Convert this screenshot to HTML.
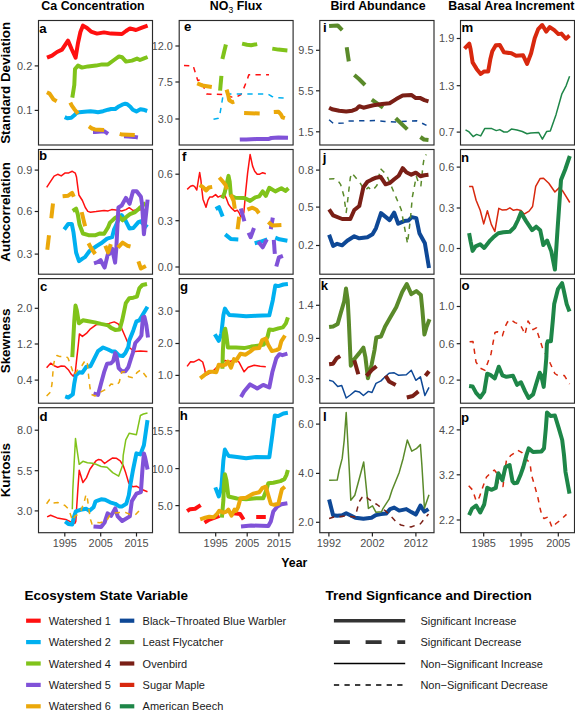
<!DOCTYPE html>
<html><head><meta charset="utf-8"><style>
html,body{margin:0;padding:0;background:#fff;}
svg{display:block;}
text{font-family:"Liberation Sans",sans-serif;}
</style></head><body>
<svg width="575" height="710" viewBox="0 0 575 710">
<rect x="0" y="0" width="575" height="710" fill="#fff"/>

<g font-weight="bold" font-size="12.4" fill="#000">
<text x="93" y="10.4" text-anchor="middle">Ca Concentration</text>
<text x="236" y="10.4" text-anchor="middle">NO<tspan font-size="8.6" font-weight="normal" dy="2.1">3</tspan><tspan dy="-2.1"> Flux</tspan></text>
<text x="378" y="10.4" text-anchor="middle">Bird Abundance</text>
<text x="448.2" y="10.4">Basal Area Increment</text>
</g>
<g font-weight="bold" font-size="13.4" fill="#000">
<text transform="translate(10.4,82.8) rotate(-90)" text-anchor="middle">Standard Deviation</text>
<text transform="translate(10.4,211.8) rotate(-90)" text-anchor="middle">Autocorrelation</text>
<text transform="translate(10.4,340.9) rotate(-90)" text-anchor="middle">Skewness</text>
<text transform="translate(10.4,470.2) rotate(-90)" text-anchor="middle">Kurtosis</text>
</g>
<g>
<polyline points="47.0,57.6 52.0,55.6 57.0,52.0 62.0,49.6 68.0,40.6 71.6,49.0 75.6,57.6 78.0,43.0 80.4,32.0 83.0,25.6 87.0,28.0 91.0,31.6 97.0,33.6 104.0,32.4 111.0,33.6 122.0,34.0 126.0,31.0 130.0,28.4 136.0,30.0 142.0,27.6 147.6,25.6" fill="none" stroke="#FF1010" stroke-width="4.0" stroke-linejoin="round" stroke-linecap="butt"/>
<polyline points="64.7,117.1 67.3,118.3 71.3,117.8 74.3,115.3 76.3,113.2 79.4,112.2 84.4,111.7 90.5,111.2 95.0,111.7 98.0,112.2 103.1,111.2 108.1,109.7 111.1,109.0 115.2,109.0 119.2,106.2 122.2,104.7 125.3,103.7 127.3,104.2 130.3,106.7 132.8,109.7 136.4,111.4 140.4,109.2 143.4,109.7 147.2,111.0" fill="none" stroke="#00B0F0" stroke-width="4.0" stroke-linejoin="round" stroke-linecap="butt"/>
<polyline points="72.3,97.6 74.3,85.0 75.0,69.0 78.0,65.6 82.0,67.6 88.0,66.4 96.0,65.6 102.0,64.4 108.0,64.4 114.0,60.0 119.0,56.4 122.0,57.2 126.0,61.6 132.0,60.6 137.0,58.6 140.0,60.0 144.0,58.4 147.6,57.0" fill="none" stroke="#80C31A" stroke-width="4.0" stroke-linejoin="round" stroke-linecap="butt"/>
<polyline points="93.0,131.9 95.0,131.9 104.1,131.2 108.1,133.9" fill="none" stroke="#8052D8" stroke-width="4.0" stroke-linejoin="round" stroke-linecap="butt"/>
<polyline points="124.0,136.2 128.3,136.4 134.3,136.9 137.9,137.5" fill="none" stroke="#8052D8" stroke-width="4.0" stroke-linejoin="round" stroke-linecap="butt"/>
<polyline points="46.9,92.3 49.6,93.6 51.6,96.6 53.6,99.6 56.7,101.3" fill="none" stroke="#EBA80A" stroke-width="4.0" stroke-linejoin="round" stroke-linecap="butt"/>
<polyline points="70.3,102.7 71.8,105.7 74.3,109.2 78.1,113.7" fill="none" stroke="#EBA80A" stroke-width="4.0" stroke-linejoin="round" stroke-linecap="butt"/>
<polyline points="88.9,126.4 92.0,128.5 95.0,129.4 104.1,129.9" fill="none" stroke="#EBA80A" stroke-width="4.0" stroke-linejoin="round" stroke-linecap="butt"/>
<polyline points="119.7,133.9 122.2,134.6 134.8,134.9" fill="none" stroke="#EBA80A" stroke-width="4.0" stroke-linejoin="round" stroke-linecap="butt"/>
</g>
<rect x="38.5" y="20.5" width="114.0" height="124.5" fill="none" stroke="#2a2a2a" stroke-width="1.15"/>
<text x="39.3" y="33.0" font-size="13.2" font-weight="bold" fill="#000">a</text>
<line x1="34.7" y1="65.9" x2="38.5" y2="65.9" stroke="#222" stroke-width="1.2"/>
<text x="32.2" y="69.8" font-size="10.9" fill="#4D4D4D" text-anchor="end">0.2</text>
<line x1="34.7" y1="110.4" x2="38.5" y2="110.4" stroke="#222" stroke-width="1.2"/>
<text x="32.2" y="114.3" font-size="10.9" fill="#4D4D4D" text-anchor="end">0.1</text>
<g>
<polyline points="184.0,65.4 193.2,65.8 197.7,80.4 200.7,79.9 206.7,94.0 224.5,94.6 232.0,97.1 237.0,96.6 241.0,94.5 243.5,89.0 247.3,79.5 248.8,74.8 269.0,74.8" fill="none" stroke="#FF1010" stroke-width="1.5" stroke-linejoin="round" stroke-dasharray="5.3 5.3" stroke-dashoffset="0"/>
<polyline points="213.5,119.3 218.5,118.3 219.6,116.0 222.8,97.0 224.0,94.6 226.0,94.1 266.0,94.1 268.0,94.2 272.0,96.5 275.0,97.6 288.5,98.1" fill="none" stroke="#00B0F0" stroke-width="1.5" stroke-linejoin="round" stroke-dasharray="5.3 5.3" stroke-dashoffset="0"/>
<polyline points="225.9,44.5 222.4,59.0" fill="none" stroke="#80C31A" stroke-width="4.0" stroke-linejoin="round" stroke-linecap="butt"/>
<polyline points="221.4,75.9 220.1,90.6" fill="none" stroke="#80C31A" stroke-width="4.0" stroke-linejoin="round" stroke-linecap="butt"/>
<polyline points="242.1,43.6 247.0,44.8 251.1,45.3 257.2,44.1" fill="none" stroke="#80C31A" stroke-width="4.0" stroke-linejoin="round" stroke-linecap="butt"/>
<polyline points="272.3,48.6 278.4,49.6 287.4,50.4" fill="none" stroke="#80C31A" stroke-width="4.0" stroke-linejoin="round" stroke-linecap="butt"/>
<polyline points="239.8,139.6 246.1,139.4 256.2,139.1 268.3,139.1 271.3,138.0 278.4,137.6 288.0,137.8" fill="none" stroke="#8052D8" stroke-width="4.0" stroke-linejoin="round" stroke-linecap="butt"/>
<polyline points="197.2,83.4 202.2,85.4 211.8,86.9" fill="none" stroke="#EBA80A" stroke-width="4.0" stroke-linejoin="round" stroke-linecap="butt"/>
<polyline points="226.6,89.6 228.2,95.1 229.2,100.2 232.7,102.2 234.2,101.7" fill="none" stroke="#EBA80A" stroke-width="4.0" stroke-linejoin="round" stroke-linecap="butt"/>
<polyline points="244.1,113.0 259.7,113.5" fill="none" stroke="#EBA80A" stroke-width="4.0" stroke-linejoin="round" stroke-linecap="butt"/>
<polyline points="273.8,112.0 278.4,111.7 280.9,114.3 282.4,117.3 284.9,118.1" fill="none" stroke="#EBA80A" stroke-width="4.0" stroke-linejoin="round" stroke-linecap="butt"/>
</g>
<rect x="179.2" y="20.5" width="113.90000000000003" height="124.5" fill="none" stroke="#2a2a2a" stroke-width="1.15"/>
<text x="183.9" y="30.5" font-size="13.2" font-weight="bold" fill="#000">e</text>
<line x1="175.39999999999998" y1="46" x2="179.2" y2="46" stroke="#222" stroke-width="1.2"/>
<text x="172.89999999999998" y="49.9" font-size="10.9" fill="#4D4D4D" text-anchor="end">12.0</text>
<line x1="175.39999999999998" y1="82" x2="179.2" y2="82" stroke="#222" stroke-width="1.2"/>
<text x="172.89999999999998" y="85.9" font-size="10.9" fill="#4D4D4D" text-anchor="end">7.5</text>
<line x1="175.39999999999998" y1="119" x2="179.2" y2="119" stroke="#222" stroke-width="1.2"/>
<text x="172.89999999999998" y="122.9" font-size="10.9" fill="#4D4D4D" text-anchor="end">3.0</text>
<g>
<polyline points="329.1,119.8 333.3,123.4 343.2,123.0 347.5,121.0 375.0,120.6 385.0,121.5 395.0,122.1 400.5,121.5 416.5,120.8 420.0,122.2 426.5,125.4" fill="none" stroke="#0E4896" stroke-width="1.5" stroke-linejoin="round" stroke-dasharray="5.3 5.3" stroke-dashoffset="0"/>
<polyline points="329.1,26.0 337.7,25.5 342.2,30.1" fill="none" stroke="#5A8A2A" stroke-width="4.0" stroke-linejoin="round" stroke-linecap="butt"/>
<polyline points="346.7,47.2 348.8,61.4" fill="none" stroke="#5A8A2A" stroke-width="4.0" stroke-linejoin="round" stroke-linecap="butt"/>
<polyline points="354.3,75.0 359.0,79.0 365.0,85.0" fill="none" stroke="#5A8A2A" stroke-width="4.0" stroke-linejoin="round" stroke-linecap="butt"/>
<polyline points="371.8,99.7 383.0,107.6" fill="none" stroke="#5A8A2A" stroke-width="4.0" stroke-linejoin="round" stroke-linecap="butt"/>
<polyline points="395.7,118.3 407.3,129.4" fill="none" stroke="#5A8A2A" stroke-width="4.0" stroke-linejoin="round" stroke-linecap="butt"/>
<polyline points="420.4,137.0 423.9,139.5 428.5,140.0" fill="none" stroke="#5A8A2A" stroke-width="4.0" stroke-linejoin="round" stroke-linecap="butt"/>
<polyline points="329.1,107.7 332.1,109.2 339.2,110.7 346.2,111.4 352.3,110.7 356.3,109.2 359.3,106.2 363.4,107.7 367.4,106.7 373.5,105.2 382.1,104.0 389.6,103.2 396.2,99.1 402.7,95.6 411.3,94.9 415.8,98.1 419.9,97.9 424.4,100.1 428.5,101.3" fill="none" stroke="#7A1F16" stroke-width="4.0" stroke-linejoin="round" stroke-linecap="butt"/>
</g>
<rect x="319.8" y="20.5" width="114.19999999999999" height="124.5" fill="none" stroke="#2a2a2a" stroke-width="1.15"/>
<text x="322.9" y="32.1" font-size="13.2" font-weight="bold" fill="#000">i</text>
<line x1="316.0" y1="50.3" x2="319.8" y2="50.3" stroke="#222" stroke-width="1.2"/>
<text x="313.5" y="54.2" font-size="10.9" fill="#4D4D4D" text-anchor="end">9.5</text>
<line x1="316.0" y1="90.8" x2="319.8" y2="90.8" stroke="#222" stroke-width="1.2"/>
<text x="313.5" y="94.7" font-size="10.9" fill="#4D4D4D" text-anchor="end">5.5</text>
<line x1="316.0" y1="131.8" x2="319.8" y2="131.8" stroke="#222" stroke-width="1.2"/>
<text x="313.5" y="135.7" font-size="10.9" fill="#4D4D4D" text-anchor="end">1.5</text>
<g>
<polyline points="464.5,48.7 469.3,43.7 470.6,49.3 472.6,62.4 476.6,68.9 480.7,74.0 484.2,71.4 488.2,71.4 490.3,59.3 492.3,51.3 495.8,45.2 499.8,45.0 503.9,52.3 511.4,53.3 516.0,55.8 523.1,55.3 527.1,63.9 531.1,53.3 534.7,38.2 538.2,29.1 542.2,25.0 546.3,31.6 549.8,27.1 554.3,30.1 558.4,34.1 561.4,33.6 565.9,38.7 569.5,35.6" fill="none" stroke="#D8280E" stroke-width="4.0" stroke-linejoin="round" stroke-linecap="butt"/>
<polyline points="465.5,129.9 469.1,131.9 473.1,136.6 476.6,134.4 480.7,135.9 484.7,128.6 491.8,128.6 496.3,130.6 499.8,129.6 503.9,132.0 507.4,132.0 511.4,129.1 517.0,130.0 522.3,131.5 527.0,133.7 530.7,132.9 538.7,132.5 542.4,139.2 546.6,131.6 550.3,131.1 556.1,114.4 561.9,93.8 566.1,85.8 569.6,76.3" fill="none" stroke="#1E8648" stroke-width="1.5" stroke-linejoin="round" stroke-linecap="butt"/>
</g>
<rect x="460.5" y="20.5" width="114.0" height="124.5" fill="none" stroke="#2a2a2a" stroke-width="1.15"/>
<text x="461.5" y="32.1" font-size="13.2" font-weight="bold" fill="#000">m</text>
<line x1="456.7" y1="38.5" x2="460.5" y2="38.5" stroke="#222" stroke-width="1.2"/>
<text x="454.2" y="42.4" font-size="10.9" fill="#4D4D4D" text-anchor="end">1.9</text>
<line x1="456.7" y1="85.7" x2="460.5" y2="85.7" stroke="#222" stroke-width="1.2"/>
<text x="454.2" y="89.6" font-size="10.9" fill="#4D4D4D" text-anchor="end">1.3</text>
<line x1="456.7" y1="132.1" x2="460.5" y2="132.1" stroke="#222" stroke-width="1.2"/>
<text x="454.2" y="136.0" font-size="10.9" fill="#4D4D4D" text-anchor="end">0.7</text>
<g>
<polyline points="46.7,187.4 50.1,182.2 54.1,176.1 57.7,174.3 61.2,175.9 65.2,172.9 68.8,172.9 72.3,171.3 75.3,173.1 76.5,177.0 77.8,187.2 78.9,195.0 82.4,200.5 85.3,207.5 87.8,211.4 90.5,212.2 96.0,211.6 104.1,210.4 108.1,210.9 111.7,209.6 115.9,210.0 121.7,211.0 125.9,209.6 129.2,207.7 133.0,210.5 136.7,210.0 143.8,209.6 145.4,210.4" fill="none" stroke="#FF1010" stroke-width="1.5" stroke-linejoin="round" stroke-linecap="butt"/>
<polyline points="64.2,229.5 68.2,224.0 71.8,224.0 73.5,232.4 76.1,252.5 79.0,261.2 82.5,258.6 85.0,257.1 89.7,250.8 96.7,246.0 101.1,243.3 107.1,238.7 112.1,237.2 114.0,229.7 115.2,227.1 119.2,218.0 121.5,215.0 125.3,220.1 129.5,228.5 133.3,228.0 138.4,222.1 140.5,221.3 143.4,224.2 147.5,227.2" fill="none" stroke="#00B0F0" stroke-width="4.0" stroke-linejoin="round" stroke-linecap="butt"/>
<polyline points="72.7,211.0 76.1,208.7 77.8,214.3 79.5,224.5 82.9,233.5 88.5,235.2 95.0,235.3 100.0,233.4 104.1,233.8 108.1,227.3 110.0,222.6 115.0,218.0 118.8,215.9 122.5,220.3 126.7,216.7 130.0,214.2 135.1,212.1 139.2,208.4 144.2,204.2 145.8,203.1" fill="none" stroke="#80C31A" stroke-width="4.0" stroke-linejoin="round" stroke-linecap="butt"/>
<polyline points="94.0,263.3 97.5,262.2 100.6,260.2 104.6,267.6 107.7,254.7 109.3,254.0 112.0,248.5 115.1,262.6 116.3,248.5 117.5,225.0 118.4,207.5 121.7,205.5 125.9,197.9 129.6,203.8 133.0,191.3 136.7,191.3 140.9,196.7 142.1,204.2 143.9,234.2 147.6,199.6" fill="none" stroke="#8052D8" stroke-width="4.0" stroke-linejoin="round" stroke-linecap="butt"/>
<polyline points="47.3,249.8 49.0,235.2" fill="none" stroke="#EBA80A" stroke-width="4.0" stroke-linejoin="round" stroke-linecap="butt"/>
<polyline points="51.3,218.3 53.0,203.6" fill="none" stroke="#EBA80A" stroke-width="4.0" stroke-linejoin="round" stroke-linecap="butt"/>
<polyline points="62.6,196.3 68.2,195.7 72.1,192.9 73.8,196.8" fill="none" stroke="#EBA80A" stroke-width="4.0" stroke-linejoin="round" stroke-linecap="butt"/>
<polyline points="81.7,212.1 85.1,226.2" fill="none" stroke="#EBA80A" stroke-width="4.0" stroke-linejoin="round" stroke-linecap="butt"/>
<polyline points="88.5,243.3 90.9,247.7 95.2,254.0" fill="none" stroke="#EBA80A" stroke-width="4.0" stroke-linejoin="round" stroke-linecap="butt"/>
<polyline points="105.3,245.7 108.1,252.4 110.8,244.2" fill="none" stroke="#EBA80A" stroke-width="4.0" stroke-linejoin="round" stroke-linecap="butt"/>
<polyline points="117.9,247.7 122.6,242.6 127.3,245.7 130.5,246.5" fill="none" stroke="#EBA80A" stroke-width="4.0" stroke-linejoin="round" stroke-linecap="butt"/>
<polyline points="138.4,261.4 140.9,268.5 145.9,266.0" fill="none" stroke="#EBA80A" stroke-width="4.0" stroke-linejoin="round" stroke-linecap="butt"/>
</g>
<rect x="38.5" y="149.5" width="114.0" height="124.69999999999999" fill="none" stroke="#2a2a2a" stroke-width="1.15"/>
<text x="38.9" y="159.8" font-size="13.2" font-weight="bold" fill="#000">b</text>
<line x1="34.7" y1="170.1" x2="38.5" y2="170.1" stroke="#222" stroke-width="1.2"/>
<text x="32.2" y="174.0" font-size="10.9" fill="#4D4D4D" text-anchor="end">0.9</text>
<line x1="34.7" y1="211.5" x2="38.5" y2="211.5" stroke="#222" stroke-width="1.2"/>
<text x="32.2" y="215.4" font-size="10.9" fill="#4D4D4D" text-anchor="end">0.6</text>
<line x1="34.7" y1="254.1" x2="38.5" y2="254.1" stroke="#222" stroke-width="1.2"/>
<text x="32.2" y="258.0" font-size="10.9" fill="#4D4D4D" text-anchor="end">0.3</text>
<g>
<polyline points="187.2,189.4 190.5,186.3 193.0,185.5 194.7,186.7 196.8,190.0 198.4,180.0 199.7,172.5 200.9,180.0 201.8,189.2 203.0,199.2 206.0,207.2 208.0,200.1 209.7,197.1 212.2,197.1 215.6,194.6 218.1,197.1 220.6,195.9 224.7,195.5 226.4,198.4 228.5,204.2 231.0,207.6 234.8,211.2 237.3,210.2 239.3,213.2 240.8,216.7 243.8,212.7 244.8,202.1 245.6,192.4 247.6,173.2 250.1,154.5 252.6,166.1 254.7,171.2 257.2,174.2 259.7,174.2 262.7,172.7 265.8,173.7" fill="none" stroke="#FF1010" stroke-width="1.5" stroke-linejoin="round" stroke-linecap="butt"/>
<polyline points="215.6,209.0 219.0,207.2 222.7,216.5" fill="none" stroke="#00B0F0" stroke-width="4.0" stroke-linejoin="round" stroke-linecap="butt"/>
<polyline points="225.2,234.4 230.7,238.9 238.3,239.4" fill="none" stroke="#00B0F0" stroke-width="4.0" stroke-linejoin="round" stroke-linecap="butt"/>
<polyline points="254.7,243.3 260.2,241.8 267.3,239.3" fill="none" stroke="#00B0F0" stroke-width="4.0" stroke-linejoin="round" stroke-linecap="butt"/>
<polyline points="275.3,237.7 279.4,239.3 287.4,240.8" fill="none" stroke="#00B0F0" stroke-width="4.0" stroke-linejoin="round" stroke-linecap="butt"/>
<polyline points="222.2,198.4 224.7,192.5 227.2,181.7 228.5,175.9 229.7,181.7 230.8,195.0 232.2,196.3 235.3,197.8 244.1,197.9 250.1,200.9 255.2,197.4 259.2,196.4 262.7,191.4 265.8,195.9 269.3,187.8 275.3,191.4 281.4,188.3 285.4,190.9 288.5,188.3" fill="none" stroke="#80C31A" stroke-width="4.0" stroke-linejoin="round" stroke-linecap="butt"/>
<polyline points="240.8,208.5 244.4,221.2" fill="none" stroke="#8052D8" stroke-width="4.0" stroke-linejoin="round" stroke-linecap="butt"/>
<polyline points="248.6,232.7 250.6,237.2 254.0,228.0" fill="none" stroke="#8052D8" stroke-width="4.0" stroke-linejoin="round" stroke-linecap="butt"/>
<polyline points="258.2,241.8 262.7,247.3 266.8,239.3" fill="none" stroke="#8052D8" stroke-width="4.0" stroke-linejoin="round" stroke-linecap="butt"/>
<polyline points="272.8,217.6 270.8,229.2" fill="none" stroke="#8052D8" stroke-width="4.0" stroke-linejoin="round" stroke-linecap="butt"/>
<polyline points="273.8,239.8 274.8,253.9" fill="none" stroke="#8052D8" stroke-width="4.0" stroke-linejoin="round" stroke-linecap="butt"/>
<polyline points="282.9,255.9 278.9,257.4 276.3,266.5" fill="none" stroke="#8052D8" stroke-width="4.0" stroke-linejoin="round" stroke-linecap="butt"/>
<polyline points="199.7,185.0 203.0,187.1 206.0,190.5 208.9,187.5 212.2,186.9" fill="none" stroke="#EBA80A" stroke-width="4.0" stroke-linejoin="round" stroke-linecap="butt"/>
<polyline points="219.3,177.5 222.6,181.3 225.6,185.0 226.8,189.6" fill="none" stroke="#EBA80A" stroke-width="4.0" stroke-linejoin="round" stroke-linecap="butt"/>
<polyline points="230.7,194.5 233.7,201.1 234.8,208.7" fill="none" stroke="#EBA80A" stroke-width="4.0" stroke-linejoin="round" stroke-linecap="butt"/>
<polyline points="239.2,216.7 237.6,229.3" fill="none" stroke="#EBA80A" stroke-width="4.0" stroke-linejoin="round" stroke-linecap="butt"/>
<polyline points="247.4,209.7 252.4,207.7 256.4,209.7 259.0,213.2" fill="none" stroke="#EBA80A" stroke-width="4.0" stroke-linejoin="round" stroke-linecap="butt"/>
<polyline points="268.3,222.1 272.3,225.6 281.4,225.1" fill="none" stroke="#EBA80A" stroke-width="4.0" stroke-linejoin="round" stroke-linecap="butt"/>
</g>
<rect x="179.2" y="149.5" width="113.90000000000003" height="124.69999999999999" fill="none" stroke="#2a2a2a" stroke-width="1.15"/>
<text x="182.1" y="161.1" font-size="13.2" font-weight="bold" fill="#000">f</text>
<line x1="175.39999999999998" y1="174.2" x2="179.2" y2="174.2" stroke="#222" stroke-width="1.2"/>
<text x="172.89999999999998" y="178.1" font-size="10.9" fill="#4D4D4D" text-anchor="end">0.6</text>
<line x1="175.39999999999998" y1="220.7" x2="179.2" y2="220.7" stroke="#222" stroke-width="1.2"/>
<text x="172.89999999999998" y="224.6" font-size="10.9" fill="#4D4D4D" text-anchor="end">0.3</text>
<line x1="175.39999999999998" y1="267" x2="179.2" y2="267" stroke="#222" stroke-width="1.2"/>
<text x="172.89999999999998" y="270.9" font-size="10.9" fill="#4D4D4D" text-anchor="end">0.0</text>
<g>
<polyline points="329.1,234.8 333.1,245.9 337.2,243.8 342.2,245.3 347.2,240.8 354.3,236.3 359.3,238.3 367.4,237.3 372.5,234.3 376.0,228.2 381.0,213.1 389.6,220.1 394.2,212.6 398.2,223.7 404.2,221.1 408.3,220.6 411.8,217.1 416.3,218.1 419.4,233.2 424.9,243.3 429.0,268.0" fill="none" stroke="#0E4896" stroke-width="4.0" stroke-linejoin="round" stroke-linecap="butt"/>
<polyline points="329.1,179.0 334.1,178.7 337.7,180.2 340.7,184.7 343.7,195.3 346.2,212.5 347.7,200.3 349.3,186.2 350.3,177.7 351.8,173.1 354.8,176.6 359.9,182.7 362.4,186.7 365.4,190.3 368.4,187.2 371.5,190.3 374.5,188.2 377.0,185.2 380.5,168.7 383.6,171.7 387.1,176.2 401.2,209.5 407.5,243.5 410.5,218.0 412.3,197.4 416.3,176.2 418.4,182.3 420.9,185.8 422.9,166.1 424.4,156.1 426.4,154.5" fill="none" stroke="#5A8A2A" stroke-width="1.5" stroke-linejoin="round" stroke-dasharray="5.3 5.3" stroke-dashoffset="0"/>
<polyline points="329.1,209.4 333.1,215.3 342.2,219.0 350.3,219.0 354.3,210.0 359.3,206.0 361.4,196.3 363.4,187.2 367.4,181.7 371.5,179.7 376.0,177.7 380.5,176.7 385.6,184.3 390.1,182.8 394.2,179.3 398.7,175.7 402.7,168.2 406.3,172.2 411.3,174.7 415.8,172.7 420.4,176.2 424.4,175.2 428.5,174.7" fill="none" stroke="#7A1F16" stroke-width="4.0" stroke-linejoin="round" stroke-linecap="butt"/>
</g>
<rect x="319.8" y="149.5" width="114.19999999999999" height="124.69999999999999" fill="none" stroke="#2a2a2a" stroke-width="1.15"/>
<text x="322.7" y="161.5" font-size="13.2" font-weight="bold" fill="#000">j</text>
<line x1="316.0" y1="170.1" x2="319.8" y2="170.1" stroke="#222" stroke-width="1.2"/>
<text x="313.5" y="174.0" font-size="10.9" fill="#4D4D4D" text-anchor="end">0.8</text>
<line x1="316.0" y1="207.1" x2="319.8" y2="207.1" stroke="#222" stroke-width="1.2"/>
<text x="313.5" y="211.0" font-size="10.9" fill="#4D4D4D" text-anchor="end">0.5</text>
<line x1="316.0" y1="245.5" x2="319.8" y2="245.5" stroke="#222" stroke-width="1.2"/>
<text x="313.5" y="249.4" font-size="10.9" fill="#4D4D4D" text-anchor="end">0.2</text>
<g>
<polyline points="469.1,186.6 472.6,186.6 476.1,200.2 480.2,210.3 483.7,223.9 487.4,210.8 491.3,224.4 494.8,231.5 498.8,208.3 502.4,210.1 506.4,209.8 509.9,207.8 513.5,210.3 517.0,209.5 521.0,210.5 524.1,214.1 529.1,211.1 532.6,206.5 535.7,186.3 540.2,178.4 543.5,178.2 548.8,183.3 554.9,192.0 559.3,187.6 562.8,191.1 569.8,202.5" fill="none" stroke="#D8280E" stroke-width="1.5" stroke-linejoin="round" stroke-linecap="butt"/>
<polyline points="469.1,233.2 470.6,241.3 472.6,250.9 475.6,246.4 480.2,244.3 484.2,247.9 490.3,240.3 493.3,237.3 498.3,233.2 503.4,232.2 509.9,231.7 514.5,227.2 518.0,220.0 521.0,212.6 526.1,221.1 532.1,230.2 536.2,226.7 540.2,230.2 543.3,245.0 547.1,240.5 551.3,251.4 554.9,269.5 557.5,230.0 561.0,180.0 565.2,169.5 569.8,156.0" fill="none" stroke="#1E8648" stroke-width="4.0" stroke-linejoin="round" stroke-linecap="butt"/>
</g>
<rect x="460.5" y="149.5" width="114.0" height="124.69999999999999" fill="none" stroke="#2a2a2a" stroke-width="1.15"/>
<text x="461.1" y="161.5" font-size="13.2" font-weight="bold" fill="#000">n</text>
<line x1="456.7" y1="167.1" x2="460.5" y2="167.1" stroke="#222" stroke-width="1.2"/>
<text x="454.2" y="171.0" font-size="10.9" fill="#4D4D4D" text-anchor="end">0.6</text>
<line x1="456.7" y1="208" x2="460.5" y2="208" stroke="#222" stroke-width="1.2"/>
<text x="454.2" y="211.9" font-size="10.9" fill="#4D4D4D" text-anchor="end">0.3</text>
<line x1="456.7" y1="248.5" x2="460.5" y2="248.5" stroke="#222" stroke-width="1.2"/>
<text x="454.2" y="252.4" font-size="10.9" fill="#4D4D4D" text-anchor="end">0.0</text>
<g>
<polyline points="46.6,367.7 50.6,363.2 54.1,365.7 57.7,367.2 61.2,366.0 64.7,366.2 68.3,369.7 71.3,374.3 73.3,376.3 75.3,372.2 76.8,358.1 78.3,345.0 79.4,333.9 82.4,336.4 86.4,333.4 90.5,328.8 96.0,324.8 102.0,324.0 109.1,323.4 114.2,321.9 118.2,323.9 121.2,327.4 124.3,334.5 127.3,341.5 129.8,348.0 134.8,351.6 140.4,351.1 147.5,351.6" fill="none" stroke="#FF1010" stroke-width="1.5" stroke-linejoin="round" stroke-linecap="butt"/>
<polyline points="65.2,396.4 68.3,397.5 72.8,394.4 74.3,383.3 75.8,375.3 79.4,372.2 82.4,372.7 86.4,366.7 90.5,366.2 94.5,358.1 98.0,351.1 103.1,347.5 108.1,349.5 112.1,351.6 115.2,351.6 119.2,355.6 122.7,356.1 125.3,353.1 128.3,347.0 129.3,340.5 133.3,330.4 136.4,321.4 139.4,320.3 142.4,315.3 147.5,306.7" fill="none" stroke="#00B0F0" stroke-width="4.0" stroke-linejoin="round" stroke-linecap="butt"/>
<polyline points="72.3,357.1 74.3,320.3 75.5,305.6 76.8,310.2 78.9,323.3 82.9,320.3 88.4,321.3 95.0,322.4 101.1,323.9 108.1,325.4 111.1,327.9 115.2,329.9 119.7,329.4 122.2,320.3 124.3,310.3 125.8,303.2 129.3,298.2 133.3,297.7 136.9,296.6 139.4,288.1 142.4,285.0 147.0,284.0" fill="none" stroke="#80C31A" stroke-width="4.0" stroke-linejoin="round" stroke-linecap="butt"/>
<polyline points="93.5,393.5 98.0,394.9 101.1,383.3 104.1,372.2 107.1,363.7 111.1,363.2 113.2,361.1 115.2,353.1 116.7,357.1 118.7,368.2 121.7,371.2 125.3,371.2 128.3,367.2 130.8,359.1 132.8,353.1 135.3,343.0 139.4,338.5 141.4,335.5 142.9,317.3 144.4,316.8 146.4,325.4 148.0,337.5" fill="none" stroke="#8052D8" stroke-width="4.0" stroke-linejoin="round" stroke-linecap="butt"/>
<polyline points="46.6,396.0 50.6,391.9 52.0,384.0 53.5,365.0 55.0,358.0 57.0,355.5 60.0,356.6 66.0,356.5 68.0,358.0 71.0,366.0 74.0,375.0 78.0,369.5 82.0,365.5 85.5,360.0 87.4,363.5 88.4,374.0 90.0,388.0 91.5,394.5 95.0,396.0 98.0,393.4 107.6,388.4 111.0,384.0 116.2,385.3 119.2,382.3 121.0,375.0 122.0,371.7 125.3,371.7 128.8,376.8 133.3,377.8 136.9,372.7 140.9,369.7 144.4,374.3 147.5,378.3" fill="none" stroke="#EBA80A" stroke-width="1.5" stroke-linejoin="round" stroke-dasharray="5.3 5.3" stroke-dashoffset="0"/>
</g>
<rect x="38.5" y="278.6" width="114.0" height="124.59999999999997" fill="none" stroke="#2a2a2a" stroke-width="1.15"/>
<text x="40.0" y="290.6" font-size="13.2" font-weight="bold" fill="#000">c</text>
<line x1="34.7" y1="308.3" x2="38.5" y2="308.3" stroke="#222" stroke-width="1.2"/>
<text x="32.2" y="312.2" font-size="10.9" fill="#4D4D4D" text-anchor="end">2.0</text>
<line x1="34.7" y1="344" x2="38.5" y2="344" stroke="#222" stroke-width="1.2"/>
<text x="32.2" y="347.9" font-size="10.9" fill="#4D4D4D" text-anchor="end">1.2</text>
<line x1="34.7" y1="380.1" x2="38.5" y2="380.1" stroke="#222" stroke-width="1.2"/>
<text x="32.2" y="384.0" font-size="10.9" fill="#4D4D4D" text-anchor="end">0.4</text>
<g>
<polyline points="187.1,366.4 190.6,361.8 193.6,362.1 198.9,359.3 202.7,362.0 204.7,369.0 205.7,375.3 212.0,372.0 218.0,366.0 225.0,360.5 230.0,361.5 235.0,359.5 239.0,362.2 244.1,371.8 248.1,367.3 254.2,365.3 260.2,366.3 265.8,366.8" fill="none" stroke="#FF1010" stroke-width="1.5" stroke-linejoin="round" stroke-linecap="butt"/>
<polyline points="214.8,334.3 218.8,340.9 221.4,333.3 223.4,315.1 224.9,308.6 227.4,312.6 229.4,315.1 237.0,315.6 246.1,316.3 256.2,315.8 269.3,315.3 272.8,300.2 275.3,285.5 278.4,286.1 283.4,284.5 287.9,284.0" fill="none" stroke="#00B0F0" stroke-width="4.0" stroke-linejoin="round" stroke-linecap="butt"/>
<polyline points="222.4,368.7 222.9,350.4 223.9,333.3 225.2,328.7 226.4,335.3 227.9,347.4 232.5,347.4 236.0,347.6 244.1,348.1 251.1,346.6 259.2,345.6 263.7,344.6 266.3,339.0 267.5,337.0 269.3,329.4 273.3,329.9 278.4,328.4 282.9,327.4 285.9,323.4 287.9,317.3" fill="none" stroke="#80C31A" stroke-width="4.0" stroke-linejoin="round" stroke-linecap="butt"/>
<polyline points="241.0,397.0 244.1,391.5 250.1,384.4 257.2,388.5 263.2,384.9 269.3,387.5 272.3,372.3 276.3,358.2 279.4,354.2 282.4,355.2 287.4,353.7" fill="none" stroke="#8052D8" stroke-width="4.0" stroke-linejoin="round" stroke-linecap="butt"/>
<polyline points="200.2,378.3 204.7,374.8 209.3,371.7 212.8,371.7 216.3,372.2 218.8,364.7 222.4,365.7 225.4,364.7 227.9,361.6 231.0,367.7 234.0,359.1 236.0,360.7 240.5,353.7 245.6,354.7 250.1,351.6 253.7,348.6 259.2,348.1 262.2,340.0 265.8,338.5 268.3,345.1 271.8,351.1 276.3,350.1 279.4,348.6 281.4,341.1 285.0,335.5" fill="none" stroke="#EBA80A" stroke-width="4.0" stroke-linejoin="round" stroke-linecap="butt"/>
</g>
<rect x="179.2" y="278.6" width="113.90000000000003" height="124.59999999999997" fill="none" stroke="#2a2a2a" stroke-width="1.15"/>
<text x="180.0" y="291.0" font-size="13.2" font-weight="bold" fill="#000">g</text>
<line x1="175.39999999999998" y1="311.1" x2="179.2" y2="311.1" stroke="#222" stroke-width="1.2"/>
<text x="172.89999999999998" y="315.0" font-size="10.9" fill="#4D4D4D" text-anchor="end">3.0</text>
<line x1="175.39999999999998" y1="343.5" x2="179.2" y2="343.5" stroke="#222" stroke-width="1.2"/>
<text x="172.89999999999998" y="347.4" font-size="10.9" fill="#4D4D4D" text-anchor="end">2.0</text>
<line x1="175.39999999999998" y1="375.4" x2="179.2" y2="375.4" stroke="#222" stroke-width="1.2"/>
<text x="172.89999999999998" y="379.3" font-size="10.9" fill="#4D4D4D" text-anchor="end">1.0</text>
<g>
<polyline points="329.1,380.3 333.1,381.4 337.7,386.4 341.7,385.4 346.2,398.0 350.3,395.0 355.3,390.9 359.3,391.9 363.4,395.5 368.4,391.4 372.0,392.5 376.0,383.4 381.0,380.9 385.1,376.8 389.1,373.3 394.2,372.8 398.7,375.3 406.3,374.8 411.3,370.3 415.8,380.3 420.4,376.8 424.9,395.5 429.0,387.4" fill="none" stroke="#0E4896" stroke-width="1.5" stroke-linejoin="round" stroke-linecap="butt"/>
<polyline points="329.1,326.9 333.1,326.4 337.7,323.9 340.7,313.3 344.2,301.2 346.0,288.6 347.7,300.2 348.8,320.3 350.3,355.0 350.8,365.7 353.8,359.7 359.3,353.1 363.4,347.6 365.4,357.1 367.9,378.3 371.5,365.2 374.5,350.1 376.3,337.5 381.0,336.5 385.1,326.4 390.1,317.8 396.2,307.2 402.2,292.1 406.8,284.0 411.3,294.1 416.3,291.1 420.9,295.1 422.4,310.3 424.4,334.5 426.4,327.4 429.5,319.3" fill="none" stroke="#5A8A2A" stroke-width="4.0" stroke-linejoin="round" stroke-linecap="butt"/>
<polyline points="329.1,364.2 333.1,363.7 336.7,358.2 340.2,356.1" fill="none" stroke="#7A1F16" stroke-width="4.0" stroke-linejoin="round" stroke-linecap="butt"/>
<polyline points="354.3,360.2 358.3,374.3" fill="none" stroke="#7A1F16" stroke-width="4.0" stroke-linejoin="round" stroke-linecap="butt"/>
<polyline points="366.4,375.8 371.5,370.3 376.5,366.2" fill="none" stroke="#7A1F16" stroke-width="4.0" stroke-linejoin="round" stroke-linecap="butt"/>
<polyline points="385.6,375.8 389.1,381.4 395.7,384.9" fill="none" stroke="#7A1F16" stroke-width="4.0" stroke-linejoin="round" stroke-linecap="butt"/>
<polyline points="406.8,397.5 412.8,396.0 418.4,391.4" fill="none" stroke="#7A1F16" stroke-width="4.0" stroke-linejoin="round" stroke-linecap="butt"/>
<polyline points="425.4,375.8 429.0,371.3" fill="none" stroke="#7A1F16" stroke-width="4.0" stroke-linejoin="round" stroke-linecap="butt"/>
</g>
<rect x="319.8" y="278.6" width="114.19999999999999" height="124.59999999999997" fill="none" stroke="#2a2a2a" stroke-width="1.15"/>
<text x="320.8" y="290.1" font-size="13.2" font-weight="bold" fill="#000">k</text>
<line x1="316.0" y1="305.3" x2="319.8" y2="305.3" stroke="#222" stroke-width="1.2"/>
<text x="313.5" y="309.2" font-size="10.9" fill="#4D4D4D" text-anchor="end">1.4</text>
<line x1="316.0" y1="338.4" x2="319.8" y2="338.4" stroke="#222" stroke-width="1.2"/>
<text x="313.5" y="342.3" font-size="10.9" fill="#4D4D4D" text-anchor="end">0.9</text>
<line x1="316.0" y1="378.7" x2="319.8" y2="378.7" stroke="#222" stroke-width="1.2"/>
<text x="313.5" y="382.6" font-size="10.9" fill="#4D4D4D" text-anchor="end">0.3</text>
<g>
<polyline points="469.6,341.8 473.0,341.6 476.0,362.0 480.0,368.0 485.0,370.4 488.0,362.0 491.0,354.0 493.0,343.0 495.0,332.5 497.3,331.7 502.4,335.7 505.4,326.1 507.4,322.1 510.4,319.6 515.0,322.6 520.0,324.4 523.0,330.0 525.0,334.5 528.0,321.0 531.0,325.6 533.0,329.7 536.7,327.7 538.0,334.0 543.0,349.5 548.3,358.4 550.3,363.5 554.8,373.5 557.0,375.0 560.4,375.1 564.4,375.6 569.6,384.0" fill="none" stroke="#D8280E" stroke-width="1.5" stroke-linejoin="round" stroke-dasharray="5.3 5.3" stroke-dashoffset="0"/>
<polyline points="469.1,385.9 472.6,386.4 476.1,392.9 480.2,397.5 484.2,391.9 487.2,373.7 490.3,374.8 494.8,378.3 498.8,366.7 502.4,375.3 506.4,376.8 513.0,375.8 517.0,384.8 521.0,382.3 525.1,391.4 528.6,398.0 533.1,394.4 536.7,382.3 539.7,372.7 541.2,375.3 543.7,386.9 545.2,371.2 546.3,358.1 546.9,344.1 547.7,341.3 550.9,341.3 552.8,320.8 554.2,304.1 557.9,289.2 562.1,283.2 563.5,289.2 566.7,304.1 569.5,311.5" fill="none" stroke="#1E8648" stroke-width="4.0" stroke-linejoin="round" stroke-linecap="butt"/>
</g>
<rect x="460.5" y="278.6" width="114.0" height="124.59999999999997" fill="none" stroke="#2a2a2a" stroke-width="1.15"/>
<text x="461.5" y="290.3" font-size="13.2" font-weight="bold" fill="#000">o</text>
<line x1="456.7" y1="306.5" x2="460.5" y2="306.5" stroke="#222" stroke-width="1.2"/>
<text x="454.2" y="310.4" font-size="10.9" fill="#4D4D4D" text-anchor="end">1.0</text>
<line x1="456.7" y1="343.7" x2="460.5" y2="343.7" stroke="#222" stroke-width="1.2"/>
<text x="454.2" y="347.6" font-size="10.9" fill="#4D4D4D" text-anchor="end">0.6</text>
<line x1="456.7" y1="380.1" x2="460.5" y2="380.1" stroke="#222" stroke-width="1.2"/>
<text x="454.2" y="384.0" font-size="10.9" fill="#4D4D4D" text-anchor="end">0.2</text>
<g>
<polyline points="47.1,516.9 50.6,515.3 57.2,517.9 65.7,519.4 70.8,521.9 74.8,523.4 75.8,521.4 76.8,505.3 77.8,490.1 79.2,470.3 82.9,482.5 86.4,477.9 89.9,469.3 96.0,460.8 98.5,459.4 101.1,459.9 104.6,463.5 108.1,460.9 112.7,457.9 116.2,458.2 120.2,460.9 123.2,465.5 125.8,473.1 128.8,483.2 132.8,486.7 136.4,486.2 141.4,489.2 147.5,491.7" fill="none" stroke="#FF1010" stroke-width="1.5" stroke-linejoin="round" stroke-linecap="butt"/>
<polyline points="65.2,521.4 68.3,523.9 72.3,524.4 73.8,517.4 75.8,511.3 80.4,509.8 86.4,508.8 89.4,510.8 93.5,507.3 95.5,501.5 97.0,500.8 101.1,499.3 105.1,499.8 110.1,502.3 115.2,503.8 119.2,506.4 122.2,506.4 126.3,503.8 128.8,495.3 130.3,485.2 133.0,470.0 136.4,453.4 140.4,454.4 143.9,445.3 147.5,420.1" fill="none" stroke="#00B0F0" stroke-width="4.0" stroke-linejoin="round" stroke-linecap="butt"/>
<polyline points="72.3,509.3 72.8,490.0 74.3,460.3 75.5,438.6 76.8,448.2 79.2,464.3 82.9,461.3 87.4,462.8 92.5,463.3 96.0,464.3 101.1,466.5 107.1,467.3 112.7,472.6 118.7,476.1 122.7,465.0 123.2,455.4 125.8,439.8 129.3,433.2 136.4,434.7 140.4,415.5 143.4,414.0 147.5,413.0" fill="none" stroke="#80C31A" stroke-width="1.5" stroke-linejoin="round" stroke-linecap="butt"/>
<polyline points="93.5,526.5 101.1,527.0 104.6,522.5 107.6,513.4 111.1,515.9 115.2,508.4 117.7,516.4 122.2,521.0 129.8,516.4 131.8,501.3 136.4,493.7 140.9,492.2 142.4,470.0 143.9,453.4 145.0,457.0 147.6,469.5" fill="none" stroke="#8052D8" stroke-width="4.0" stroke-linejoin="round" stroke-linecap="butt"/>
<polyline points="46.6,503.7 49.6,499.5 53.0,503.0 58.0,502.6 65.0,505.5 68.8,509.3 71.0,516.0 72.5,520.5 75.0,516.0 78.3,514.3 81.0,510.5 84.4,501.2 86.0,494.5 87.5,499.0 89.0,510.0 90.5,519.4 92.0,524.0 94.0,523.0 96.0,522.4 100.0,522.8 104.0,521.5 107.1,520.0 110.0,515.0 115.0,512.9 120.7,512.4 125.3,512.4 129.8,514.4 135.3,514.9 139.4,510.4 143.4,508.9" fill="none" stroke="#EBA80A" stroke-width="1.5" stroke-linejoin="round" stroke-dasharray="5.3 5.3" stroke-dashoffset="0"/>
</g>
<rect x="38.5" y="407.7" width="114.0" height="125.00000000000006" fill="none" stroke="#2a2a2a" stroke-width="1.15"/>
<text x="39.5" y="420.5" font-size="13.2" font-weight="bold" fill="#000">d</text>
<line x1="34.7" y1="430.2" x2="38.5" y2="430.2" stroke="#222" stroke-width="1.2"/>
<text x="32.2" y="434.1" font-size="10.9" fill="#4D4D4D" text-anchor="end">8.0</text>
<line x1="34.7" y1="470.7" x2="38.5" y2="470.7" stroke="#222" stroke-width="1.2"/>
<text x="32.2" y="474.6" font-size="10.9" fill="#4D4D4D" text-anchor="end">5.5</text>
<line x1="34.7" y1="510.9" x2="38.5" y2="510.9" stroke="#222" stroke-width="1.2"/>
<text x="32.2" y="514.8" font-size="10.9" fill="#4D4D4D" text-anchor="end">3.0</text>
<line x1="64.8" y1="532.7" x2="64.8" y2="536.5" stroke="#222" stroke-width="1.2"/>
<text x="64.8" y="547.4" font-size="10.9" fill="#4D4D4D" text-anchor="middle">1995</text>
<line x1="100.7" y1="532.7" x2="100.7" y2="536.5" stroke="#222" stroke-width="1.2"/>
<text x="100.7" y="547.4" font-size="10.9" fill="#4D4D4D" text-anchor="middle">2005</text>
<line x1="136.5" y1="532.7" x2="136.5" y2="536.5" stroke="#222" stroke-width="1.2"/>
<text x="136.5" y="547.4" font-size="10.9" fill="#4D4D4D" text-anchor="middle">2015</text>
<g>
<polyline points="187.1,511.2 190.1,509.2 195.1,508.7 200.7,505.1" fill="none" stroke="#FF1010" stroke-width="4.0" stroke-linejoin="round" stroke-linecap="butt"/>
<polyline points="204.5,522.6 209.3,519.6 214.0,517.8 219.5,515.8" fill="none" stroke="#FF1010" stroke-width="4.0" stroke-linejoin="round" stroke-linecap="butt"/>
<polyline points="231.5,513.2 236.0,513.4 240.0,513.9 243.6,519.5" fill="none" stroke="#FF1010" stroke-width="4.0" stroke-linejoin="round" stroke-linecap="butt"/>
<polyline points="256.2,517.0 265.8,517.0" fill="none" stroke="#FF1010" stroke-width="4.0" stroke-linejoin="round" stroke-linecap="butt"/>
<polyline points="215.3,487.4 218.8,496.5 221.4,487.4 223.4,460.2 224.9,449.6 227.4,454.1 228.9,456.1 237.0,456.9 246.1,458.2 256.2,456.9 269.3,457.2 272.3,435.2 274.8,415.5 278.4,416.1 283.4,413.5 287.9,412.8" fill="none" stroke="#00B0F0" stroke-width="4.0" stroke-linejoin="round" stroke-linecap="butt"/>
<polyline points="221.9,517.7 223.4,500.0 223.9,485.4 224.9,474.3 226.4,480.3 228.4,496.5 237.0,498.5 246.1,499.3 256.2,498.3 263.2,498.3 266.3,490.2 268.3,483.2 273.3,482.7 280.4,481.1 284.4,479.1 286.4,475.1 287.9,470.0" fill="none" stroke="#80C31A" stroke-width="4.0" stroke-linejoin="round" stroke-linecap="butt"/>
<polyline points="241.0,526.5 251.1,525.5 268.3,526.0 270.8,521.5 273.3,511.4 277.4,506.4 281.4,504.3 287.4,503.3" fill="none" stroke="#8052D8" stroke-width="4.0" stroke-linejoin="round" stroke-linecap="butt"/>
<polyline points="200.2,519.3 205.2,517.7 209.3,516.7 213.8,517.2 217.3,513.7 219.3,510.7 223.4,512.7 226.4,511.7 228.4,509.7 231.5,515.7 234.5,509.7 236.0,511.0 238.0,507.4 240.5,498.3 246.1,497.8 253.1,493.7 259.2,492.2 262.2,488.2 265.8,486.7 268.3,495.3 270.8,503.8 274.3,504.8 278.4,503.8 280.4,495.3 281.9,489.2 284.9,486.7" fill="none" stroke="#EBA80A" stroke-width="4.0" stroke-linejoin="round" stroke-linecap="butt"/>
</g>
<rect x="179.2" y="407.7" width="113.90000000000003" height="125.00000000000006" fill="none" stroke="#2a2a2a" stroke-width="1.15"/>
<text x="179.8" y="420.4" font-size="13.2" font-weight="bold" fill="#000">h</text>
<line x1="175.39999999999998" y1="430.8" x2="179.2" y2="430.8" stroke="#222" stroke-width="1.2"/>
<text x="172.89999999999998" y="434.7" font-size="10.9" fill="#4D4D4D" text-anchor="end">15.5</text>
<line x1="175.39999999999998" y1="468.6" x2="179.2" y2="468.6" stroke="#222" stroke-width="1.2"/>
<text x="172.89999999999998" y="472.5" font-size="10.9" fill="#4D4D4D" text-anchor="end">10.0</text>
<line x1="175.39999999999998" y1="505.6" x2="179.2" y2="505.6" stroke="#222" stroke-width="1.2"/>
<text x="172.89999999999998" y="509.5" font-size="10.9" fill="#4D4D4D" text-anchor="end">5.0</text>
<line x1="215.7" y1="532.7" x2="215.7" y2="536.5" stroke="#222" stroke-width="1.2"/>
<text x="215.7" y="547.4" font-size="10.9" fill="#4D4D4D" text-anchor="middle">1995</text>
<line x1="247.2" y1="532.7" x2="247.2" y2="536.5" stroke="#222" stroke-width="1.2"/>
<text x="247.2" y="547.4" font-size="10.9" fill="#4D4D4D" text-anchor="middle">2005</text>
<line x1="278.9" y1="532.7" x2="278.9" y2="536.5" stroke="#222" stroke-width="1.2"/>
<text x="278.9" y="547.4" font-size="10.9" fill="#4D4D4D" text-anchor="middle">2015</text>
<g>
<polyline points="329.1,499.6 333.1,515.2 337.2,515.7 342.2,515.2 346.2,513.2 350.3,515.2 355.3,517.7 363.4,518.8 371.5,517.7 376.0,515.1 381.0,514.1 386.1,513.6 390.1,509.1 394.2,507.6 399.2,510.6 406.3,509.1 411.3,512.1 415.8,514.6 420.4,505.6 424.4,511.6 428.5,509.1" fill="none" stroke="#0E4896" stroke-width="4.0" stroke-linejoin="round" stroke-linecap="butt"/>
<polyline points="329.1,480.3 337.2,480.1 339.2,470.0 342.2,458.4 344.2,440.3 346.2,412.5 347.7,440.3 349.3,470.0 350.8,500.3 354.8,495.3 360.0,476.0 363.7,462.0 365.0,475.0 368.4,508.4 372.5,505.9 376.0,512.3 381.5,511.8 383.1,508.3 389.1,499.2 392.1,490.0 398.2,475.0 399.2,472.4 403.2,458.2 407.3,440.1 411.8,451.2 416.3,448.7 420.4,444.6 421.9,465.3 423.4,490.0 424.4,508.3 429.0,494.7" fill="none" stroke="#5A8A2A" stroke-width="1.5" stroke-linejoin="round" stroke-linecap="butt"/>
<polyline points="329.1,518.5 334.0,517.0 339.0,516.8 345.0,516.0 351.0,516.6 355.0,517.0 356.5,512.0 359.0,502.0 362.0,497.5 364.8,495.8 368.4,498.8 373.0,502.3 377.0,504.5 385.0,510.5 392.6,518.0 396.7,522.4 401.0,525.0 406.3,526.4 411.0,527.0 416.3,525.0 420.4,523.9 424.4,518.9 428.5,514.0" fill="none" stroke="#7A1F16" stroke-width="1.5" stroke-linejoin="round" stroke-dasharray="5.3 5.3" stroke-dashoffset="0"/>
</g>
<rect x="319.8" y="407.7" width="114.19999999999999" height="125.00000000000006" fill="none" stroke="#2a2a2a" stroke-width="1.15"/>
<text x="322.9" y="420.8" font-size="13.2" font-weight="bold" fill="#000">l</text>
<line x1="316.0" y1="424.1" x2="319.8" y2="424.1" stroke="#222" stroke-width="1.2"/>
<text x="313.5" y="428.0" font-size="10.9" fill="#4D4D4D" text-anchor="end">6.0</text>
<line x1="316.0" y1="473.4" x2="319.8" y2="473.4" stroke="#222" stroke-width="1.2"/>
<text x="313.5" y="477.3" font-size="10.9" fill="#4D4D4D" text-anchor="end">4.0</text>
<line x1="316.0" y1="522.3" x2="319.8" y2="522.3" stroke="#222" stroke-width="1.2"/>
<text x="313.5" y="526.2" font-size="10.9" fill="#4D4D4D" text-anchor="end">2.0</text>
<line x1="328.9" y1="532.7" x2="328.9" y2="536.5" stroke="#222" stroke-width="1.2"/>
<text x="328.9" y="547.4" font-size="10.9" fill="#4D4D4D" text-anchor="middle">1992</text>
<line x1="372.4" y1="532.7" x2="372.4" y2="536.5" stroke="#222" stroke-width="1.2"/>
<text x="372.4" y="547.4" font-size="10.9" fill="#4D4D4D" text-anchor="middle">2002</text>
<line x1="415.9" y1="532.7" x2="415.9" y2="536.5" stroke="#222" stroke-width="1.2"/>
<text x="415.9" y="547.4" font-size="10.9" fill="#4D4D4D" text-anchor="middle">2012</text>
<g>
<polyline points="468.7,485.7 472.6,490.0 476.0,500.5 477.5,501.0 479.6,496.5 483.0,486.5 486.5,477.0 490.0,473.5 494.3,470.0 496.0,472.0 498.3,483.9 503.0,486.5 505.0,470.0 506.5,460.0 510.5,455.7 514.1,453.3 517.8,450.2 522.0,452.7 525.1,458.1 530.0,463.0 531.5,475.0 535.0,487.0 538.0,498.0 540.0,508.0 542.0,516.0 544.0,518.5 548.0,517.0 550.0,522.0 552.0,527.5 556.0,523.5 560.0,520.5 566.5,514.4" fill="none" stroke="#D8280E" stroke-width="1.5" stroke-linejoin="round" stroke-dasharray="5.3 5.3" stroke-dashoffset="0"/>
<polyline points="469.1,515.1 472.1,508.5 476.1,505.5 480.2,512.5 484.2,504.5 487.2,487.8 491.3,489.8 495.8,487.8 498.3,473.2 502.4,480.3 505.4,467.1 509.6,465.0 512.5,481.3 514.1,483.3 517.2,482.7 520.8,474.2 523.3,467.0 526.3,455.7 528.7,448.4 533.0,452.0 541.5,451.4 544.0,448.4 545.8,428.9 547.0,412.5 550.7,416.1 554.9,415.5 558.6,427.7 562.2,440.0 564.0,455.0 565.5,472.0 569.5,493.7" fill="none" stroke="#1E8648" stroke-width="4.0" stroke-linejoin="round" stroke-linecap="butt"/>
</g>
<rect x="460.5" y="407.7" width="114.0" height="125.00000000000006" fill="none" stroke="#2a2a2a" stroke-width="1.15"/>
<text x="461.0" y="421.7" font-size="13.2" font-weight="bold" fill="#000">p</text>
<line x1="456.7" y1="429.9" x2="460.5" y2="429.9" stroke="#222" stroke-width="1.2"/>
<text x="454.2" y="433.8" font-size="10.9" fill="#4D4D4D" text-anchor="end">4.2</text>
<line x1="456.7" y1="474.8" x2="460.5" y2="474.8" stroke="#222" stroke-width="1.2"/>
<text x="454.2" y="478.7" font-size="10.9" fill="#4D4D4D" text-anchor="end">3.2</text>
<line x1="456.7" y1="520" x2="460.5" y2="520" stroke="#222" stroke-width="1.2"/>
<text x="454.2" y="523.9" font-size="10.9" fill="#4D4D4D" text-anchor="end">2.2</text>
<line x1="483.7" y1="532.7" x2="483.7" y2="536.5" stroke="#222" stroke-width="1.2"/>
<text x="483.7" y="547.4" font-size="10.9" fill="#4D4D4D" text-anchor="middle">1985</text>
<line x1="521.1" y1="532.7" x2="521.1" y2="536.5" stroke="#222" stroke-width="1.2"/>
<text x="521.1" y="547.4" font-size="10.9" fill="#4D4D4D" text-anchor="middle">1995</text>
<line x1="558.3" y1="532.7" x2="558.3" y2="536.5" stroke="#222" stroke-width="1.2"/>
<text x="558.3" y="547.4" font-size="10.9" fill="#4D4D4D" text-anchor="middle">2005</text>
<text x="294.3" y="566.9" font-size="12.3" font-weight="bold" text-anchor="middle" fill="#000">Year</text>
<text x="24.5" y="599.8" font-size="13.5" font-weight="bold" fill="#000">Ecosystem State Variable</text>
<line x1="26.1" y1="620.7" x2="40.7" y2="620.7" stroke="#FF1010" stroke-width="4.2"/>
<text x="48.8" y="624.8" font-size="11" fill="#1A1A1A">Watershed 1</text>
<line x1="119.8" y1="620.7" x2="134.3" y2="620.7" stroke="#0E4896" stroke-width="4.2"/>
<text x="142.6" y="624.8" font-size="11" fill="#1A1A1A">Black−Throated Blue Warbler</text>
<line x1="26.1" y1="642.1" x2="40.7" y2="642.1" stroke="#00B0F0" stroke-width="4.2"/>
<text x="48.8" y="646.2" font-size="11" fill="#1A1A1A">Watershed 2</text>
<line x1="119.8" y1="642.1" x2="134.3" y2="642.1" stroke="#5A8A2A" stroke-width="4.2"/>
<text x="142.6" y="646.2" font-size="11" fill="#1A1A1A">Least Flycatcher</text>
<line x1="26.1" y1="663.5" x2="40.7" y2="663.5" stroke="#80C31A" stroke-width="4.2"/>
<text x="48.8" y="667.6" font-size="11" fill="#1A1A1A">Watershed 4</text>
<line x1="119.8" y1="663.5" x2="134.3" y2="663.5" stroke="#7A1F16" stroke-width="4.2"/>
<text x="142.6" y="667.6" font-size="11" fill="#1A1A1A">Ovenbird</text>
<line x1="26.1" y1="684.9" x2="40.7" y2="684.9" stroke="#8052D8" stroke-width="4.2"/>
<text x="48.8" y="689.0" font-size="11" fill="#1A1A1A">Watershed 5</text>
<line x1="119.8" y1="684.9" x2="134.3" y2="684.9" stroke="#D8280E" stroke-width="4.2"/>
<text x="142.6" y="689.0" font-size="11" fill="#1A1A1A">Sugar Maple</text>
<line x1="26.1" y1="706.3" x2="40.7" y2="706.3" stroke="#EBA80A" stroke-width="4.2"/>
<text x="48.8" y="710.4" font-size="11" fill="#1A1A1A">Watershed 6</text>
<line x1="119.8" y1="706.3" x2="134.3" y2="706.3" stroke="#1E8648" stroke-width="4.2"/>
<text x="142.6" y="710.4" font-size="11" fill="#1A1A1A">American Beech</text>
<text x="325.5" y="599.8" font-size="13.5" font-weight="bold" fill="#000">Trend Signficance and Direction</text>
<line x1="333.9" y1="620.7" x2="405.2" y2="620.7" stroke="#333" stroke-width="3.6"/>
<text x="420.4" y="624.8" font-size="11" fill="#1A1A1A">Significant Increase</text>
<line x1="333.9" y1="642.1" x2="405.2" y2="642.1" stroke="#333" stroke-width="3.6" stroke-dasharray="16 15.7"/>
<text x="420.4" y="646.2" font-size="11" fill="#1A1A1A">Significant Decrease</text>
<line x1="333.9" y1="663.5" x2="405.2" y2="663.5" stroke="#000" stroke-width="1.35"/>
<text x="420.4" y="667.6" font-size="11" fill="#1A1A1A">Non−Significant Increase</text>
<line x1="333.9" y1="684.9" x2="405.2" y2="684.9" stroke="#000" stroke-width="1.45" stroke-dasharray="5.3 5.25"/>
<text x="420.4" y="689.0" font-size="11" fill="#1A1A1A">Non−Significant Decrease</text>
</svg></body></html>
